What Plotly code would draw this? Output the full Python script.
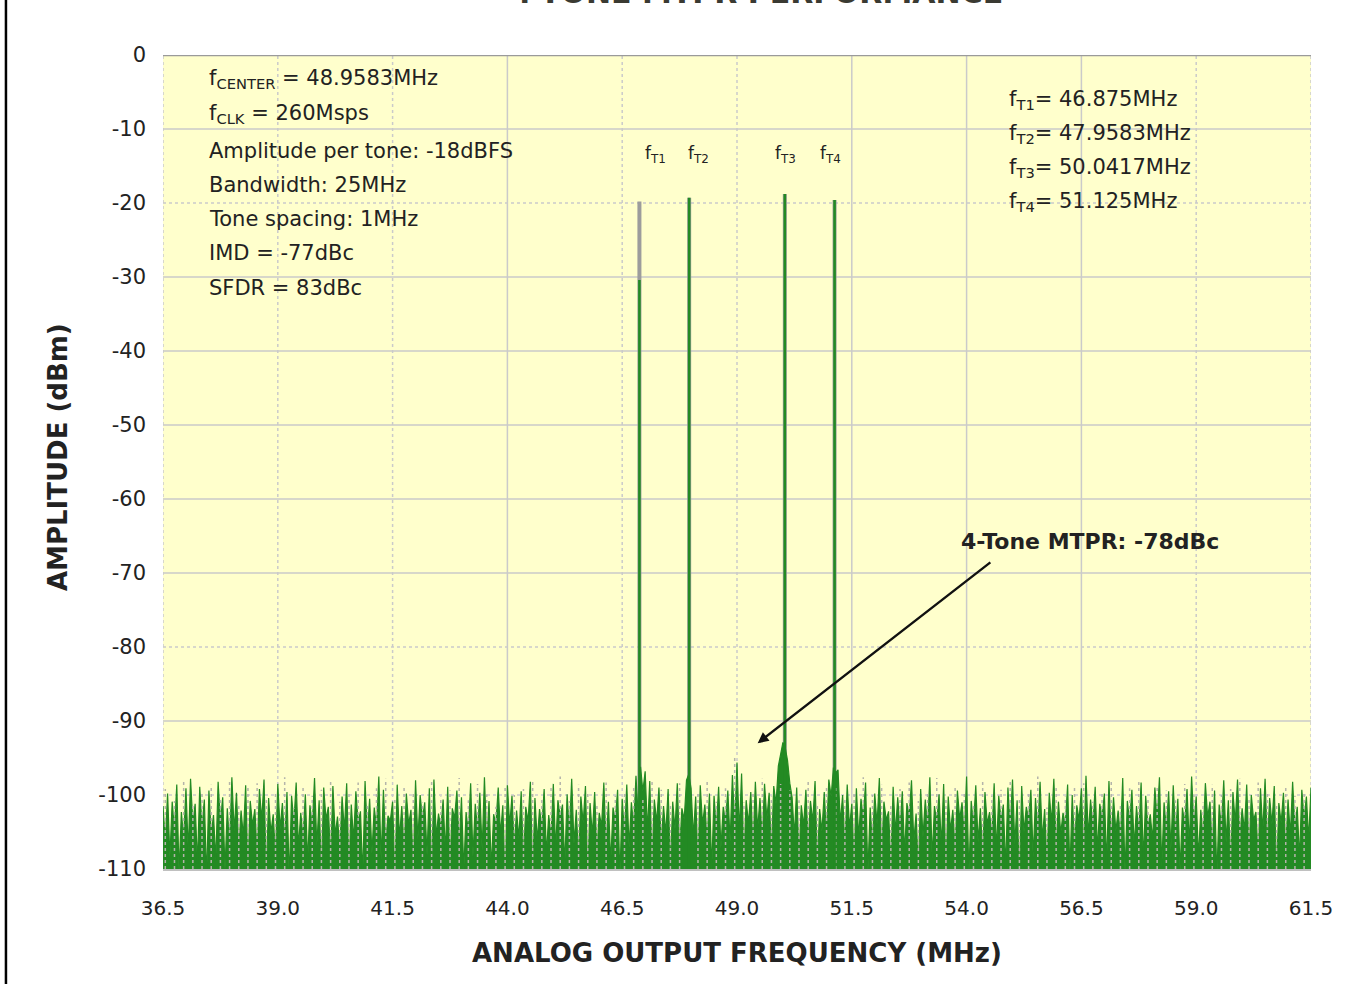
import numpy as np
import plotly.graph_objects as go

# ---------------- data ----------------
x_tick_vals = [36.5, 39.0, 41.5, 44.0, 46.5, 49.0, 51.5, 54.0, 56.5, 59.0, 61.5]
x_tick_labels = ["36.5", "39.0", "41.5", "44.0", "46.5", "49.0", "51.5", "54.0", "56.5", "59.0", "61.5"]
y_tick_vals = [0, -10, -20, -30, -40, -50, -60, -70, -80, -90, -100, -110]
y_tick_labels = ["0", "-10", "-20", "-30", "-40", "-50", "-60", "-70", "-80", "-90", "-100", "-110"]

tone_names = ["T1", "T2", "T3", "T4"]
tone_freqs = [46.875, 47.9583, 50.0417, 51.125]      # MHz
tone_peaks = [-19.8, -19.3, -18.8, -19.6]            # dBm (full tone height)
tone_green_tops = [-30.4, -19.3, -18.8, -19.6]       # dBm (top of green part)

bin_start = 36.5      # MHz, first FFT bin shown
bin_step = 0.05       # MHz
noise_green_db = [
    -101.5, -106.2, -99.8, -108.4, -100.9, -104.7, -98.6, -110.5, -102.3, -105.9, -99.1, -107.6, -97.8, -103.9, -101.2, -109.3, -98.9, -104.4, -100.6, -111.2,
    -99.4, -105.3, -102.7, -108.9, -98.2, -103.6, -100.3, -110.1, -101.8, -106.7, -97.6, -104.9, -99.7, -107.3, -102.1, -105.5, -98.7, -109.6, -100.8, -104.1,
    -101.9, -107.8, -99.2, -103.4, -97.9, -110.8, -100.4, -105.1, -102.6, -108.2, -98.5, -104.6, -101.1, -106.3, -99.6, -111.4, -100.1, -103.8, -98.3, -107.1,
    -102.4, -105.7, -99.9, -109.1, -101.4, -104.2, -97.7, -106.9, -100.7, -110.3, -99.0, -103.3, -101.6, -108.6, -98.8, -105.4, -102.9, -107.4, -100.2, -104.8,
    -98.4, -109.8, -101.3, -106.1, -99.5, -103.7, -102.2, -110.9, -98.1, -105.2, -100.5, -107.9, -101.7, -104.3, -97.5, -108.8, -99.3, -106.5, -102.8, -103.5,
    -100.9, -111.0, -98.6, -105.8, -101.5, -107.2, -99.8, -104.0, -102.0, -109.4, -98.0, -106.0, -100.0, -103.2, -101.0, -108.1, -99.1, -110.6, -97.9, -105.6,
    -102.5, -104.5, -100.6, -107.7, -98.9, -109.0, -101.8, -103.1, -99.4, -106.8, -100.3, -110.2, -102.3, -105.0, -98.4, -108.3, -101.2, -104.7, -99.7, -107.5,
    -97.6, -106.4, -100.8, -109.9, -102.6, -103.9, -99.0, -105.3, -101.4, -111.3, -98.7, -104.1, -100.1, -107.0, -102.1, -105.9, -99.5, -108.7, -101.6, -103.6,
    -98.2, -110.4, -100.4, -106.2, -101.9, -104.4, -99.2, -108.0, -102.7, -105.7, -98.5, -107.3, -100.7, -103.0, -101.3, -109.5, -99.9, -104.9, -97.8, -106.6,
    -102.0, -108.5, -100.2, -103.8, -98.8, -110.7, -101.1, -105.4, -99.6, -107.6, -102.4, -104.2, -98.3, -106.9, -100.9, -109.2, -101.7, -103.4, -99.3, -111.1,
    -100.5, -105.1, -98.6, -107.1, -101.0, -104.3, -97.4, -103.0, -96.2, -99.5, -96.8, -104.8, -98.1, -108.4, -100.6, -103.7, -99.0, -106.7, -101.5, -105.2,
    -99.2, -109.7, -100.9, -104.6, -98.4, -107.4, -101.8, -103.3, -98.0, -97.2, -99.1, -105.6, -100.2, -108.9, -98.7, -104.0, -101.3, -106.1, -99.8, -110.0,
    -100.1, -104.5, -98.9, -107.2, -101.6, -103.5, -99.4, -106.3, -97.3, -104.1, -95.6, -105.0, -97.1, -108.2, -100.7, -103.9, -99.6, -106.8, -98.2, -104.7,
    -100.4, -105.9, -98.5, -103.2, -99.7, -107.8, -98.8, -101.2, -96.1, -94.4, -92.9, -93.6, -95.3, -98.4, -100.3, -105.5, -99.0, -108.3, -101.4, -104.2,
    -99.3, -106.4, -100.8, -103.6, -98.1, -109.1, -101.9, -104.9, -99.6, -105.3, -97.9, -100.2, -96.3, -97.0, -96.6, -103.8, -100.0, -107.0, -98.6, -104.4,
    -101.2, -108.7, -99.1, -105.8, -100.5, -103.1, -98.3, -110.6, -101.7, -106.5, -99.8, -104.0, -97.7, -107.7, -100.9, -103.4, -102.2, -109.3, -98.9, -105.1,
    -100.3, -104.6, -99.5, -107.9, -101.1, -103.0, -98.0, -106.2, -102.5, -110.1, -99.2, -105.7, -100.6, -104.3, -97.6, -108.6, -101.5, -103.7, -99.9, -106.9,
    -98.5, -109.6, -100.2, -104.8, -102.0, -107.3, -99.4, -103.3, -101.0, -105.4, -97.5, -110.9, -100.8, -104.1, -98.7, -106.4, -101.8, -108.1, -99.6, -103.9,
    -102.3, -105.6, -98.4, -107.5, -100.1, -103.5, -101.3, -109.8, -99.0, -104.5, -97.9, -106.7, -100.7, -111.2, -98.8, -105.0, -101.6, -103.2, -99.3, -108.4,
    -100.4, -104.7, -98.2, -106.0, -101.9, -109.0, -99.7, -103.8, -97.8, -107.1, -100.9, -105.2, -102.4, -104.0, -98.6, -110.4, -100.0, -106.6, -101.4, -103.4,
    -99.1, -108.0, -97.4, -105.5, -100.6, -104.2, -98.9, -107.6, -101.2, -103.1, -99.8, -109.4, -98.1, -106.3, -100.3, -104.9, -102.1, -105.8, -97.7, -110.7,
    -100.8, -103.6, -99.3, -107.0, -101.5, -105.1, -98.3, -108.8, -100.1, -104.4, -102.6, -106.1, -99.0, -103.3, -97.6, -109.7, -101.0, -104.6, -99.5, -107.4,
    -98.7, -105.3, -100.5, -110.3, -101.7, -103.9, -99.2, -106.8, -97.5, -104.1, -100.2, -108.5, -102.0, -105.7, -98.4, -103.0, -100.9, -107.2, -99.4, -111.0,
    -101.3, -104.3, -98.0, -106.4, -100.7, -109.2, -99.6, -103.7, -97.9, -105.9, -101.8, -104.8, -98.6, -107.8, -100.0, -103.4, -102.3, -108.2, -99.1, -105.0,
    -97.8, -106.5, -100.4, -104.0, -98.8, -110.5, -101.1, -103.8, -99.7, -107.3, -100.6, -105.4, -98.2, -104.5, -101.6, -108.7, -99.3, -103.2, -100.2, -106.1,
    -99.0,
]

gray_start = 36.55
gray_step = 0.2
noise_gray_db = [
    -99.2, -100.8, -98.1, -101.5, -99.7, -98.6, -100.3, -97.9, -101.1, -99.0,
    -98.4, -100.6, -99.5, -97.6, -101.8, -98.9, -100.1, -99.3, -98.0, -100.9,
    -99.8, -98.3, -101.3, -99.1, -97.8, -100.4, -98.7, -99.6, -101.0, -98.2,
    -100.2, -99.4, -97.7, -100.7, -98.5, -99.9, -101.6, -98.8, -100.0, -99.2,
    -98.1, -100.5, -99.0, -97.5, -100.8, -98.6, -99.7, -101.2, -98.3, -100.1,
    -99.5, -98.9, -100.6, -97.9, -99.3, -101.4, -98.4, -100.3, -99.8, -98.0,
    -100.9, -99.1, -95.0, -101.0, -99.6, -97.8, -100.2, -98.5, -99.4, -100.7,
    -98.2, -101.5, -99.0, -98.8, -100.4, -99.9, -97.6, -100.0, -98.6, -101.1,
    -99.2, -98.3, -100.8, -99.7, -97.7, -100.5, -98.9, -99.5, -101.3, -98.1,
    -100.1, -99.3, -98.0, -100.6, -99.8, -97.5, -101.7, -98.7, -100.2, -99.0,
    -98.4, -100.9, -99.6, -98.2, -101.2, -99.1, -97.9, -100.3, -98.8, -99.4,
    -100.7, -98.5, -99.9, -101.0, -98.6, -100.0, -99.2, -97.8, -100.4, -98.3,
    -99.7, -101.4, -98.9, -100.1, -99.5,
]

# ---------------- styles ----------------
GREEN = "#238a23"
GRAY = "#b4b4aa"
BG = "#ffffcc"
GRID = "#cacaca"
TXT = "#222222"
FONT = "DejaVu Sans"
x_grid_dash = ["dot", "dot", "dot", "solid", "dot", "dot", "solid", "solid", "solid", "dot", "dot"]
y_grid_dash = ["solid", "solid", "dot", "solid", "solid", "solid", "solid", "solid", "dot", "solid", "dot", "solid"]

y_floor = -110.0
green_x = np.round(bin_start + bin_step * np.arange(len(noise_green_db)), 4)
gray_x = np.round(gray_start + gray_step * np.arange(len(noise_gray_db)), 4)

fig = go.Figure()

# gray tone lines
tx, ty = [], []
for f, p in zip(tone_freqs, tone_peaks):
    tx += [f, f, None]
    ty += [y_floor, p, None]
fig.add_trace(go.Scatter(x=tx, y=ty, mode="lines",
                         line=dict(color="#9c9c9c", width=4),
                         hoverinfo="skip", showlegend=False))

# baseline for the green fill (below visible range)
fig.add_trace(go.Scatter(x=[x_tick_vals[0], x_tick_vals[-1]], y=[-120, -120],
                         mode="lines", line=dict(width=0, color=GREEN),
                         hoverinfo="skip", showlegend=False))

# green spectrum
fig.add_trace(go.Scatter(x=green_x, y=noise_green_db, mode="lines",
                         line=dict(color=GREEN, width=1.2),
                         fill="tonexty", fillcolor=GREEN,
                         showlegend=False))

# gray noise: dotted vertical lines drawn over the green mass
gx, gy = [], []
for f, v in zip(gray_x, noise_gray_db):
    gx += [f, f, None]
    gy += [y_floor, v, None]
fig.add_trace(go.Scatter(x=gx, y=gy, mode="lines",
                         line=dict(color=GRAY, width=1.5, dash="dot"),
                         hoverinfo="skip", showlegend=False))

# green tone lines
tx, ty = [], []
for f, p in zip(tone_freqs, tone_green_tops):
    tx += [f, f, None]
    ty += [y_floor, p, None]
fig.add_trace(go.Scatter(x=tx, y=ty, mode="lines",
                         line=dict(color=GREEN, width=2.6),
                         hoverinfo="skip", showlegend=False))

# ---------------- grid shapes ----------------
shapes = []
for xv, d in zip(x_tick_vals, x_grid_dash):
    shapes.append(dict(type="line", xref="x", yref="paper", x0=xv, x1=xv, y0=0, y1=1,
                       line=dict(color=GRID, width=1.5, dash=d), layer="below"))
for yv, d in zip(y_tick_vals, y_grid_dash):
    col = "#9a9a9a" if yv == 0 else GRID
    w = 2.5 if yv == 0 else 1.5
    shapes.append(dict(type="line", xref="paper", yref="y", x0=0, x1=1, y0=yv, y1=yv,
                       line=dict(color=col, width=w, dash=d), layer="below"))
# outer left frame line of the original figure
shapes.append(dict(type="line", xref="paper", yref="paper", x0=-0.1368, x1=-0.1368,
                   y0=-0.15, y1=1.08, line=dict(color="#000000", width=2.5)))

# ---------------- annotations ----------------
ann = []
left_lines = [
    "f<sub>CENTER</sub> = 48.9583MHz",
    "f<sub>CLK</sub> = 260Msps",
    "Amplitude per tone: -18dBFS",
    "Bandwidth: 25MHz",
    "Tone spacing: 1MHz",
    "IMD = -77dBc",
    "SFDR = 83dBc",
]
left_y = [-3.2, -8.0, -12.96, -17.54, -22.13, -26.72, -31.44]
for t, yv in zip(left_lines, left_y):
    ann.append(dict(x=37.46, y=yv, xref="x", yref="y", text=t, showarrow=False,
                    xanchor="left", yanchor="middle",
                    font=dict(family=FONT, size=21, color=TXT)))

right_lines = [f"f<sub>{n}</sub>= {v}MHz" for n, v in zip(tone_names, ["46.875", "47.9583", "50.0417", "51.125"])]
right_y = [-6.1, -10.7, -15.3, -19.9]
for t, yv in zip(right_lines, right_y):
    ann.append(dict(x=54.88, y=yv, xref="x", yref="y", text=t, showarrow=False,
                    xanchor="left", yanchor="middle",
                    font=dict(family=FONT, size=21, color=TXT)))

tone_label_x = [47.22, 48.16, 50.05, 51.04]
for n, xv in zip(tone_names, tone_label_x):
    ann.append(dict(x=xv, y=-13.4, xref="x", yref="y", text=f"f<sub>{n}</sub>",
                    showarrow=False, xanchor="center", yanchor="middle",
                    font=dict(family=FONT, size=17, color=TXT)))

# MTPR callout
ann.append(dict(x=49.45, y=-93.0, xref="x", yref="y", ax=54.55, ay=-68.4,
                axref="x", ayref="y", text="", showarrow=True,
                arrowhead=2, arrowsize=0.9, arrowwidth=2.4, arrowcolor="#111111"))
ann.append(dict(x=56.69, y=-65.7, xref="x", yref="y", text="<b>4-Tone MTPR: -78dBc</b>",
                showarrow=False, xanchor="center", yanchor="middle",
                font=dict(family=FONT, size=22, color=TXT)))

# axis titles and (cut) chart title
ann.append(dict(x=0.5, y=-0.103, xref="paper", yref="paper",
                text="<b>ANALOG OUTPUT FREQUENCY (MHz)</b>", showarrow=False,
                xanchor="center", yanchor="middle",
                font=dict(family=FONT, size=26, color=TXT)))
ann.append(dict(x=-0.0915, y=0.506, xref="paper", yref="paper",
                text="<b>AMPLITUDE (dBm)</b>", showarrow=False, textangle=-90,
                xanchor="center", yanchor="middle",
                font=dict(family=FONT, size=26, color=TXT)))
ann.append(dict(x=0.517, y=1.0528, xref="paper", yref="paper",
                text="<b>4-TONE MTPR PERFORMANCE</b>", showarrow=False,
                xanchor="center", yanchor="bottom",
                font=dict(family=FONT, size=30, color="#3a3a32")))

fig.update_layout(
    width=1350, height=984,
    margin=dict(l=163, r=39, t=55, b=115),
    paper_bgcolor="white", plot_bgcolor=BG,
    shapes=shapes, annotations=ann,
    showlegend=False,
    font=dict(family=FONT, color=TXT),
)
fig.update_xaxes(range=[x_tick_vals[0], x_tick_vals[-1]], tickvals=x_tick_vals, ticktext=x_tick_labels,
                 showgrid=False, zeroline=False, showline=True, linecolor="#c0c0c0", linewidth=1.5,
                 ticks="", ticklabelstandoff=20, tickfont=dict(family=FONT, size=20, color=TXT))
fig.update_yaxes(range=[-110, 0], tickvals=y_tick_vals, ticktext=y_tick_labels,
                 showgrid=False, zeroline=False, showline=False,
                 ticks="", ticklabelstandoff=16, tickfont=dict(family=FONT, size=21, color=TXT))

fig.write_html("out.html", config={"displayModeBar": False},
               post_script="document.body.style.margin='0';")
